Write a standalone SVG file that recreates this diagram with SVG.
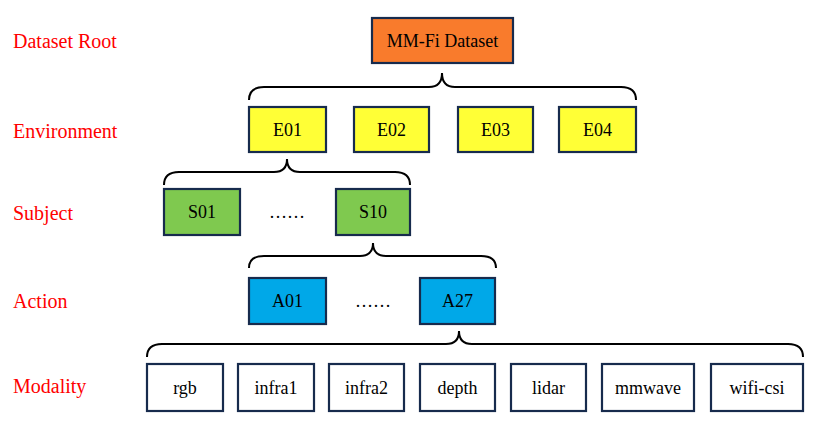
<svg xmlns="http://www.w3.org/2000/svg" width="821" height="425" viewBox="0 0 821 425">
<style>
.lbl{font-family:"Liberation Serif","Times New Roman",serif;font-size:20px;fill:#FF0000}
.box{stroke:#172B4D;stroke-width:2.2}
.t{font-family:"Liberation Serif","Times New Roman",serif;font-size:18px;fill:#000;text-anchor:middle}
.brace{fill:none;stroke:#000;stroke-width:2}
.root{fill:#F97B2C}.env{fill:#FFFF36}.sub{fill:#7FC94F}.act{fill:#00A8E8}.mod{fill:#FFFFFF}
</style>
<rect width="821" height="425" fill="#fff"/>
<g id="labels">
<text class="lbl" x="13" y="48">Dataset Root</text>
<text class="lbl" x="13" y="138">Environment</text>
<text class="lbl" x="13" y="220">Subject</text>
<text class="lbl" x="13" y="308">Action</text>
<text class="lbl" x="13" y="393">Modality</text>
</g>
<g id="connectors">
<path class="brace" d="M249 100 Q249 87 264 87 L429 87 Q442 87 442 73 Q442 87 455 87 L621 87 Q636 87 636 100"/>
<path class="brace" d="M164 185 Q164 172 179 172 L274 172 Q287 172 287 159 Q287 172 300 172 L395 172 Q410 172 410 185"/>
<path class="brace" d="M249 268 Q249 256 264 256 L360 256 Q373 256 373 243 Q373 256 386 256 L481 256 Q496 256 496 268"/>
<path class="brace" d="M147 357 Q147 344 162 344 L446 344 Q459 344 459 331 Q459 344 472 344 L788 344 Q803 344 803 357"/>
</g>
<g id="root"><rect class="box root" x="372" y="18" width="141" height="45"/><text class="t" x="442.5" y="46.5">MM-Fi Dataset</text></g>
<g id="E01"><rect class="box env" x="249" y="107" width="77" height="45"/><text class="t" x="287.5" y="135.5">E01</text></g>
<g id="E02"><rect class="box env" x="354" y="107" width="75" height="45"/><text class="t" x="391.5" y="135.5">E02</text></g>
<g id="E03"><rect class="box env" x="458" y="107" width="75" height="45"/><text class="t" x="495.5" y="135.5">E03</text></g>
<g id="E04"><rect class="box env" x="559" y="107" width="77" height="45"/><text class="t" x="597.5" y="135.5">E04</text></g>
<g id="S01"><rect class="box sub" x="164" y="189" width="76" height="46"/><text class="t" x="202" y="218">S01</text></g>
<g id="S-dots"><text class="t" x="287" y="218">……</text></g>
<g id="S10"><rect class="box sub" x="336" y="189" width="74" height="46"/><text class="t" x="373" y="218">S10</text></g>
<g id="A01"><rect class="box act" x="249" y="278" width="77" height="46"/><text class="t" x="287.5" y="307">A01</text></g>
<g id="A-dots"><text class="t" x="373" y="307">……</text></g>
<g id="A27"><rect class="box act" x="420" y="278" width="75" height="46"/><text class="t" x="457.5" y="307">A27</text></g>
<g id="rgb"><rect class="box mod" x="147" y="364" width="76" height="47"/><text class="t" x="185" y="393.5">rgb</text></g>
<g id="infra1"><rect class="box mod" x="238" y="364" width="76" height="47"/><text class="t" x="276" y="393.5">infra1</text></g>
<g id="infra2"><rect class="box mod" x="329" y="364" width="75" height="47"/><text class="t" x="366.5" y="393.5">infra2</text></g>
<g id="depth"><rect class="box mod" x="420" y="364" width="75" height="47"/><text class="t" x="457.5" y="393.5">depth</text></g>
<g id="lidar"><rect class="box mod" x="511" y="364" width="75" height="47"/><text class="t" x="548.5" y="393.5">lidar</text></g>
<g id="mmwave"><rect class="box mod" x="602" y="364" width="92" height="47"/><text class="t" x="648" y="393.5">mmwave</text></g>
<g id="wifi-csi"><rect class="box mod" x="711" y="364" width="92" height="47"/><text class="t" x="757" y="393.5">wifi-csi</text></g>
</svg>
